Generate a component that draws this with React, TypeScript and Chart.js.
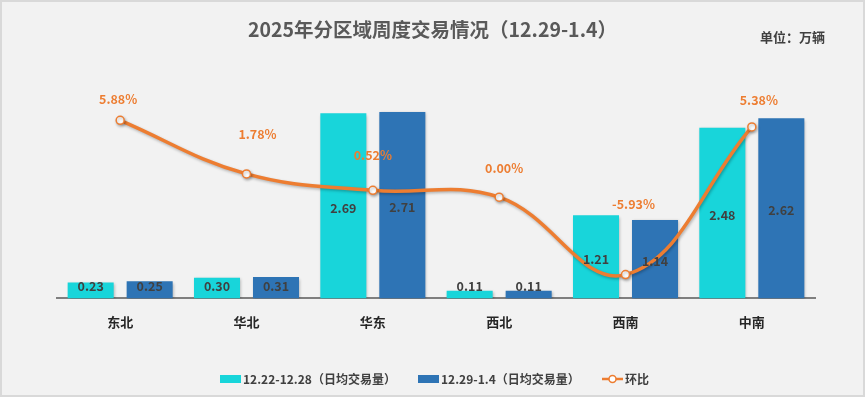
import React, { useEffect, useRef } from 'react';
import { Chart, registerables } from 'chart.js';

Chart.register(...registerables);

const categories = ['东北', '华北', '华东', '西北', '西南', '中南'];
const prevWeek = [0.23, 0.30, 2.69, 0.11, 1.21, 2.48];
const thisWeek = [0.25, 0.31, 2.71, 0.11, 1.14, 2.62];
const momPct = [5.88, 1.78, 0.52, 0.00, -5.93, 5.38];
const seriesNames = ['12.22-12.28（日均交易量）', '12.29-1.4（日均交易量）', '环比'];
const titleText = '2025年分区域周度交易情况（12.29-1.4）';
const unitText = '单位：万辆';
const pctLabelOffsets = [[-2, -21], [11, -40], [0, -35], [5, -29], [8, -70], [7, -27]];

const FONT = '"Noto Sans CJK SC", "Microsoft YaHei", sans-serif';
const CYAN = '#18d5da';
const BLUE = '#2e74b5';
const ORANGE = '#ed7d31';
const W = 865;
const H = 397;

const deco = {
  id: 'deco',
  beforeDraw(chart: any) {
    const ctx = chart.ctx;
    ctx.save();
    ctx.fillStyle = '#f2f2f2';
    ctx.fillRect(0, 0, W, H);
    ctx.strokeStyle = '#d9d9d9';
    ctx.lineWidth = 2;
    ctx.strokeRect(1, 1, W - 2, H - 2);
    ctx.restore();
  },
  beforeDatasetDraw(chart: any) {
    const ctx = chart.ctx;
    ctx.save();
    ctx.shadowColor = 'rgba(0,0,0,0.28)';
    ctx.shadowBlur = 3;
    ctx.shadowOffsetX = 1;
    ctx.shadowOffsetY = 1.5;
  },
  afterDatasetDraw(chart: any) {
    chart.ctx.restore();
  },
  afterDatasetsDraw(chart: any) {
    const ctx = chart.ctx;
    ctx.save();
    ctx.textAlign = 'center';
    ctx.textBaseline = 'middle';
    ctx.font = `bold 12.5px ${FONT}`;
    ctx.fillStyle = '#404040';
    [0, 1].forEach((di) => {
      const meta = chart.getDatasetMeta(di);
      const vals = chart.data.datasets[di].data as number[];
      meta.data.forEach((el: any, i: number) => {
        const center = (el.y + el.base) / 2 + 2;
        const y = Math.min(center, el.base - 12);
        ctx.fillText(vals[i].toFixed(2), el.x, y);
      });
    });
    ctx.font = `bold 12.5px ${FONT}`;
    ctx.fillStyle = ORANGE;
    const lm = chart.getDatasetMeta(2);
    lm.data.forEach((el: any, i: number) => {
      const [dx, dy] = pctLabelOffsets[i];
      ctx.fillText(momPct[i].toFixed(2) + '%', el.x + dx, el.y + dy);
    });
    ctx.restore();
  },
  afterDraw(chart: any) {
    const ctx = chart.ctx;
    ctx.save();
    ctx.textAlign = 'center';
    ctx.textBaseline = 'middle';
    ctx.fillStyle = '#595959';
    ctx.font = `bold 19.5px ${FONT}`;
    ctx.fillText(titleText, W / 2, 30);
    ctx.textAlign = 'left';
    ctx.fillStyle = '#404040';
    ctx.font = `bold 13px ${FONT}`;
    ctx.fillText(unitText, 760, 37);
    const ly = 379;
    ctx.font = `bold 12px ${FONT}`;
    const starts = [220, 418, 602];
    const colors = [CYAN, BLUE];
    for (let i = 0; i < 2; i++) {
      ctx.fillStyle = colors[i];
      ctx.fillRect(starts[i], ly - 4, 21, 8);
      ctx.fillStyle = '#404040';
      ctx.fillText(seriesNames[i], starts[i] + 23, ly);
    }
    const s = starts[2];
    ctx.strokeStyle = ORANGE;
    ctx.lineWidth = 2.5;
    ctx.beginPath();
    ctx.moveTo(s, ly);
    ctx.lineTo(s + 21, ly);
    ctx.stroke();
    ctx.beginPath();
    ctx.arc(s + 10.5, ly, 3.5, 0, Math.PI * 2);
    ctx.fillStyle = '#ffffff';
    ctx.fill();
    ctx.lineWidth = 1.5;
    ctx.stroke();
    ctx.fillStyle = '#404040';
    ctx.fillText(seriesNames[2], s + 23, ly);
    ctx.restore();
  },
};

export default function App() {
  const ref = useRef<HTMLCanvasElement | null>(null);
  useEffect(() => {
    if (!ref.current) return;
    const chart = new Chart(ref.current, {
      type: 'bar',
      data: {
        labels: categories,
        datasets: [
          {
            type: 'bar',
            label: seriesNames[0],
            data: prevWeek,
            backgroundColor: CYAN,
            yAxisID: 'y',
            order: 1,
            barPercentage: 0.78,
            categoryPercentage: 0.934,
          },
          {
            type: 'bar',
            label: seriesNames[1],
            data: thisWeek,
            backgroundColor: BLUE,
            yAxisID: 'y',
            order: 1,
            barPercentage: 0.78,
            categoryPercentage: 0.934,
          },
          {
            type: 'line',
            label: seriesNames[2],
            data: momPct,
            borderColor: ORANGE,
            borderWidth: 3.5,
            tension: 0.4,
            pointRadius: 4,
            pointBorderWidth: 1.5,
            pointBackgroundColor: '#ffffff',
            pointBorderColor: ORANGE,
            yAxisID: 'y1',
            order: 0,
          } as any,
        ],
      },
      options: {
        responsive: false,
        animation: false,
        layout: { padding: { left: 57, right: 50, top: 92, bottom: 51 } },
        plugins: {
          legend: { display: false },
          title: { display: false },
          tooltip: { enabled: false },
        },
        scales: {
          x: {
            grid: { display: false, drawTicks: false },
            border: { display: true, color: '#7f7f7f', width: 2 },
            ticks: {
              color: '#262626',
              font: { family: FONT, size: 13, weight: 'bold' },
              padding: 16,
            },
          },
          y: { display: false, min: 0, max: 3.0 },
          y1: { display: false, position: 'right', min: -7.75, max: 8.05 },
        },
      },
      plugins: [deco],
    });
    return () => chart.destroy();
  }, []);
  return (
    <div style={{ position: 'fixed', left: 0, top: 0, width: W, height: H, background: '#f2f2f2' }}>
      <canvas ref={ref} width={W} height={H} style={{ width: W, height: H, display: 'block' }} />
    </div>
  );
}
